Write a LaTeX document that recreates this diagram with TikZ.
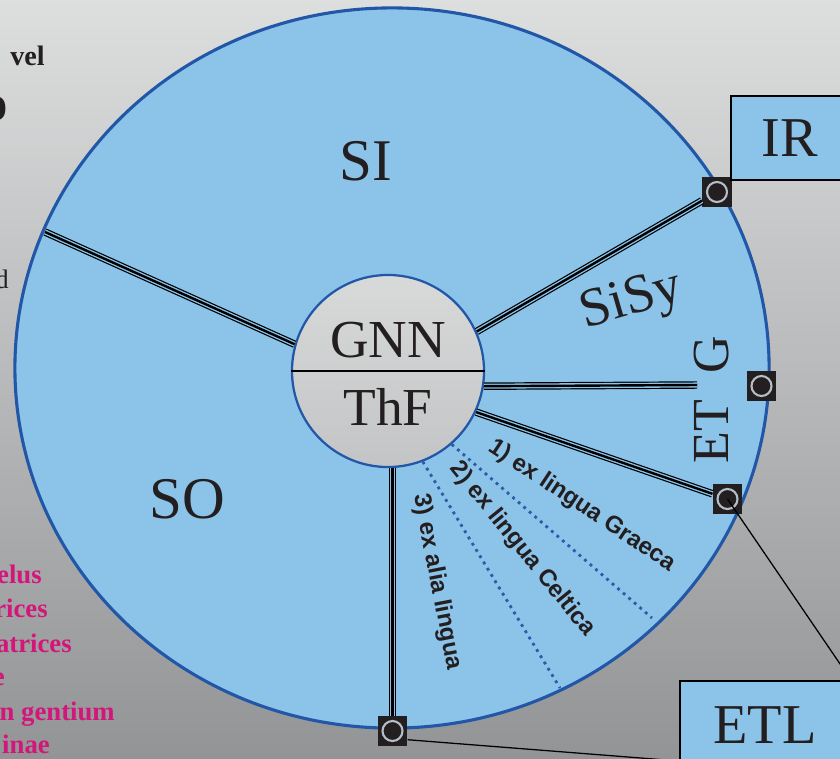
\documentclass[tikz,border=0pt]{standalone}
\usepackage{fontspec}
\setmainfont{Liberation Serif}
\newfontfamily\labelfont{Liberation Sans}
\usetikzlibrary{positioning}

\definecolor{circblue}{HTML}{8CC3E9}
\definecolor{edgeblue}{HTML}{2157A6}
\definecolor{dotblue}{HTML}{2A5CAA}
\definecolor{markblack}{HTML}{231F20}
\definecolor{ringgray}{HTML}{B4BEC6}
\definecolor{textdark}{HTML}{231F20}
\definecolor{pinktext}{HTML}{D4157A}
\definecolor{bgtop}{HTML}{DDDEDE}
\definecolor{bgbot}{HTML}{929496}
\definecolor{hubtop}{HTML}{D8D9D9}
\definecolor{hubbot}{HTML}{C3C4C5}

\begin{document}
\begin{tikzpicture}[x=0.025cm, y=-0.025cm,
  port/.style={rectangle, fill=markblack, minimum size=0.74cm, inner sep=0pt,
    path picture={\draw[ringgray, line width=1.5pt] (path picture bounding box.center) circle (0.25cm);}},
  spoke/.style={draw=black, line width=0.85pt, double=circblue, double distance=3.6pt,
    postaction={draw=black, line width=1.7pt}},
  divider/.style={draw=dotblue, line width=2pt, dash pattern=on 2pt off 3.2pt},
  sector/.style={font=\labelfont\bfseries\fontsize{17}{20}\selectfont, text=textdark},
  bigtxt/.style={font=\fontsize{40}{48}\selectfont, text=textdark},
  box/.style={rectangle, draw=black, line width=1.4pt, fill=circblue, inner sep=0pt},
  wire/.style={draw=black, line width=0.9pt},
  pinknote/.style={font=\bfseries\fontsize{19}{23}\selectfont, text=pinktext, anchor=base east, inner sep=0pt},
]
  \useasboundingbox (0,0) rectangle (840,758);
  \clip (0,0) rectangle (840,758);
  \shade[top color=bgtop, bottom color=bgbot] (0,0) rectangle (840,758);

  % 外圈
  \draw[draw=edgeblue, fill=circblue, line width=2.2pt] (392,368) ellipse [x radius=9.425cm, y radius=9cm];

  % 中心节点
  \node[circle, draw=edgeblue, line width=1.6pt, top color=hubtop, bottom color=hubbot,
        minimum size=4.8cm, inner sep=0pt] (hub) at (388,371) {};
  \draw[black, line width=1pt] (hub.west) -- (hub.east);
  \node[bigtxt, font=\fontsize{38}{44}\selectfont, inner sep=0pt, above=9pt of hub.center] (gnn) {GNN};
  \node[bigtxt, font=\fontsize{38}{44}\selectfont, inner sep=0pt, below=12.5pt of hub.center] (thf) {ThF};

  % 端口
  \node[port] (mIR) at (717,192) {};
  \node[port] (mG) at (761.5,386) {};
  \node[port] (mETL) at (727.5,499) {};
  \node[port] (mB) at (392.5,731) {};

  \coordinate (leftEnd) at (45,232);
  \coordinate (gEnd) at (697,385);
  \coordinate (graecaEnd) at (652,618);
  \coordinate (celticaEnd) at (560,688);
  \coordinate (etlIn) at (679,761);

  % 分隔线
  \draw[spoke] (hub.164) -- (leftEnd);
  \draw[spoke] (hub.24) -- (mIR);
  \draw[spoke] (hub.-9) -- (gEnd);
  \draw[spoke] (hub.-25) -- (mETL);
  \draw[spoke] (mB |- hub.south) -- (mB);
  \draw[divider] (hub.-49) -- (graecaEnd);
  \draw[divider] (hub.-69) -- (celticaEnd);

  % 区域标签
  \node[bigtxt, font=\fontsize{42}{48}\selectfont] (si) at (366,161) {SI};
  \node[bigtxt, font=\fontsize{42}{48}\selectfont] (so) at (187,499) {SO};
  \node[bigtxt, font=\fontsize{39}{44}\selectfont, rotate=16] (sisy) at (632,302) {SiSy};
  \node[bigtxt, font=\fontsize{37}{44}\selectfont, rotate=90] (etg) at (712,400) {ET\enspace G};
  \node[sector, rotate=-33.5] (graeca) at (582,506) {1) ex lingua Graeca};
  \node[sector, rotate=-51] (celtica) at (522,549) {2) ex lingua Celtica};
  \node[sector, rotate=-79] (alia) at (437,582) {3) ex alia lingua};

  % 外部方框
  \node[box, bigtxt, minimum width=2.95cm, minimum height=2.1cm, anchor=north west] (ir) at (730,95) {IR};
  \node[box, bigtxt, minimum width=4.25cm, minimum height=2.2cm, anchor=north west] (etl) at (679,680) {ETL};
  \draw[wire] (mETL.center) -- (etl.north east);
  \draw[wire] (mB.-30) -- (etlIn);

  % 左侧残字
  \node[font=\bfseries\fontsize{20}{24}\selectfont, text=textdark, anchor=base west, inner sep=0pt] (frVel) at (10,65) {vel};
  \node[font=\bfseries\fontsize{36}{40}\selectfont, text=textdark, anchor=base east, inner sep=0pt] (frO) at (8,120) {o};
  \node[font=\fontsize{19}{22}\selectfont, text=textdark, anchor=base east, inner sep=0pt] (frD) at (9,288) {d};
  \node[pinknote] (p1) at (42,583) {elus};
  \node[pinknote] (p2) at (48,617) {rices};
  \node[pinknote] (p3) at (72,652) {atrices};
  \node[pinknote] (p4) at (5,685) {e};
  \node[pinknote] (p5) at (115,720) {n gentium};
  \node[pinknote] (p6) at (50,753) {inae};
\end{tikzpicture}
\end{document}
